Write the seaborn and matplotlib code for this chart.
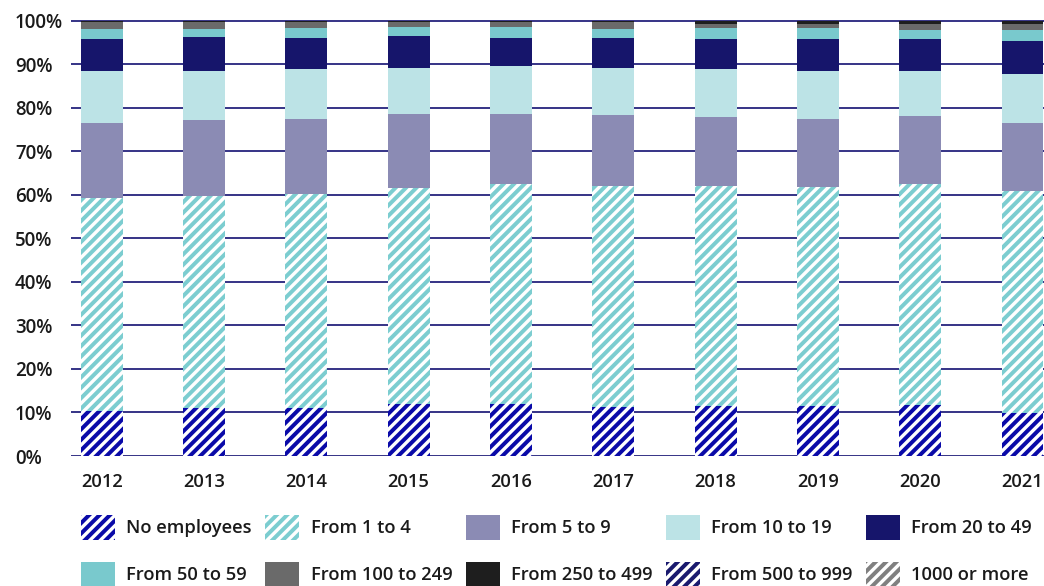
import matplotlib
matplotlib.use("Agg")
import matplotlib.pyplot as plt
import matplotlib.patches as mpatches
import seaborn as sns
import numpy as np

# share of firms by number of employees, % per year
years = ["2012", "2013", "2014", "2015", "2016", "2017", "2018", "2019", "2020", "2021"]
no_employees = [10.4, 11.0, 11.0, 12.0, 12.0, 11.3, 11.5, 11.5, 11.7, 9.9]
from_1_to_4 = [48.9, 48.8, 49.2, 49.6, 50.5, 50.8, 50.6, 50.3, 50.8, 51.0]
from_5_to_9 = [17.3, 17.4, 17.3, 17.0, 16.1, 16.3, 15.8, 15.7, 15.7, 15.7]
from_10_to_19 = [11.9, 11.3, 11.5, 10.6, 11.1, 10.8, 11.1, 11.0, 10.3, 11.2]
from_20_to_49 = [7.4, 7.8, 7.1, 7.4, 6.4, 6.9, 6.9, 7.4, 7.4, 7.6]
from_50_to_59 = [2.3, 1.9, 2.3, 2.0, 2.5, 2.1, 2.5, 2.5, 2.0, 2.5]
from_100_to_249 = [1.6, 1.6, 1.4, 1.2, 1.2, 1.6, 0.9, 0.9, 1.4, 1.4]
from_250_to_499 = [0.2, 0.2, 0.2, 0.2, 0.2, 0.2, 0.7, 0.7, 0.7, 0.7]
from_500_to_999 = [0.0, 0.0, 0.0, 0.0, 0.0, 0.0, 0.0, 0.0, 0.0, 0.0]
from_1000 = [0.0, 0.0, 0.0, 0.0, 0.0, 0.0, 0.0, 0.0, 0.0, 0.0]

labels = ["No employees", "From 1 to 4", "From 5 to 9", "From 10 to 19", "From 20 to 49",
          "From 50 to 59", "From 100 to 249", "From 250 to 499", "From 500 to 999", "1000 or more"]
series = [no_employees, from_1_to_4, from_5_to_9, from_10_to_19, from_20_to_49,
          from_50_to_59, from_100_to_249, from_250_to_499, from_500_to_999, from_1000]
colors = ["#0a0aa8", "#7ccdd0", "#8b8bb4", "#bce3e6", "#16156b",
          "#79c9cd", "#6a6a6a", "#1e1e1e", "#1a1a6e", "#808080"]
hatched = [True, True, False, False, False, False, False, False, True, True]
HATCH = "////"

sns.set_style("white")
plt.rcParams["font.family"] = ["Open Sans", "DejaVu Sans"]
plt.rcParams["hatch.linewidth"] = 2.3

fig = plt.figure(figsize=(8.352, 4.688), dpi=125)
ax = fig.add_axes([71 / 1044, 1 - 456 / 586, 1 - 71 / 1044, (456 - 18.8) / 586])

# stacked bars: draw cumulative totals from the top segment down
cum = np.cumsum(np.array(series), axis=0)
for i in range(len(series) - 1, -1, -1):
    sns.barplot(x=years, y=cum[i], color=colors[i], saturation=1, width=0.41,
                linewidth=0, order=years, ax=ax)
    if hatched[i]:
        for p in ax.containers[-1]:
            p.set_facecolor("white")
            p.set_edgecolor(colors[i])
            p.set_hatch(HATCH)
            p.set_linewidth(0)

ax.set_xlim(-0.3, 9.21)
ax.set_ylim(0, 100.5)
ax.set_yticks(range(0, 101, 10))
ax.set_yticklabels([f"{v}%" for v in range(0, 101, 10)])
ax.set_xlabel("")
ax.set_ylabel("")
for s in ax.spines.values():
    s.set_visible(False)
ax.set_axisbelow(True)
ax.yaxis.grid(True, color="#1c1a78", linewidth=1.0)
ax.xaxis.grid(False)

ax.tick_params(axis="y", length=0, pad=32.3, labelsize=10.8, labelcolor="#1a1a1a")
ax.tick_params(axis="x", length=0, pad=10, labelsize=10.6, labelcolor="#1a1a1a")
for lab in ax.get_yticklabels():
    lab.set_horizontalalignment("left")
    lab.set_fontweight("semibold")
for lab in ax.get_xticklabels():
    lab.set_fontweight("semibold")

handles = []
for i in range(len(labels)):
    if hatched[i]:
        h = mpatches.Patch(facecolor="white", edgecolor=colors[i], hatch=HATCH, linewidth=0, label=labels[i])
    else:
        h = mpatches.Patch(facecolor=colors[i], linewidth=0, label=labels[i])
    handles.append(h)
order = [0, 5, 1, 6, 2, 7, 3, 8, 4, 9]
leg = fig.legend([handles[k] for k in order], [labels[k] for k in order],
                 loc="upper left", bbox_to_anchor=(81 / 1044, 1 - 515 / 586),
                 ncol=5, frameon=False, borderpad=0, borderaxespad=0,
                 handlelength=1.85, handleheight=1.7, handletextpad=0.62,
                 labelspacing=1.2, columnspacing=0.72,
                 prop={"size": 10.6, "weight": "semibold"})
for t in leg.get_texts():
    t.set_color("#1a1a1a")

fig.savefig("out.png", dpi=125)
